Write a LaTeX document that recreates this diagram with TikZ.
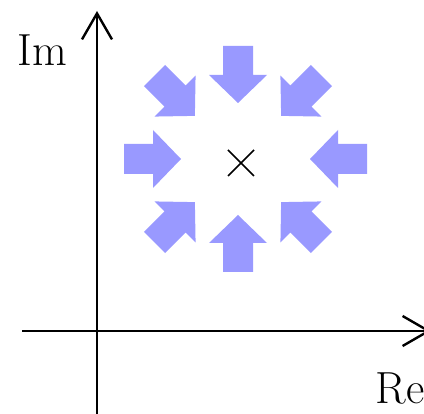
\documentclass[tikz,border=0pt]{standalone}
\usepackage{tikz}
\usetikzlibrary{arrows.meta, calc}
\definecolor{pushblue}{HTML}{9999FF}

\begin{document}
\begin{tikzpicture}[x=1pt, y=-1pt,
    axis/.style={line width=2.6pt, -{Straight Barb[length=26pt, width=30pt, line width=2.4pt]}},
    axislabel/.style={font=\fontsize{45}{48}\selectfont, inner sep=0pt},
    pusharrow/.style={fill=pushblue, draw=none}]
    \useasboundingbox (0,0) rectangle (424,414);
    % 1. Axes
    \coordinate (origin) at (97,331);
    \coordinate (xend) at (431,331);
    \coordinate (xstart) at (22,331);
    \coordinate (ytop) at (97,11);
    \coordinate (ybottom) at (97,414);
    \draw[axis] (xstart) -- (xend);
    \draw[axis] (ybottom) -- (ytop);
    \node[axislabel] (im) at (42,50) {Im};
    \node[axislabel] (re) at (400,388) {Re};

    % 2. Pole (cross)
    \coordinate (pole) at (241,163);
    \draw[line width=1.6pt] ($(pole)+(-13,-13)$) -- ($(pole)+(13,13)$);
    \draw[line width=1.6pt] ($(pole)+(-13,13)$) -- ($(pole)+(13,-13)$);

    % 3. Arrows pointing to the pole
    \coordinate (ring) at (238,159);
    \foreach \ang/\rad in {0/72, 45/61, 90/56, 135/61, 180/57, 225/61, 270/56, 315/61} {
        \fill[pusharrow, shift={(ring)}, rotate=\ang]
            (\rad,0) -- ({\rad+28},29) -- ({\rad+28},15) -- ({\rad+57},15)
            -- ({\rad+57},-15) -- ({\rad+28},-15) -- ({\rad+28},-29) -- cycle;
    }
\end{tikzpicture}
\end{document}
